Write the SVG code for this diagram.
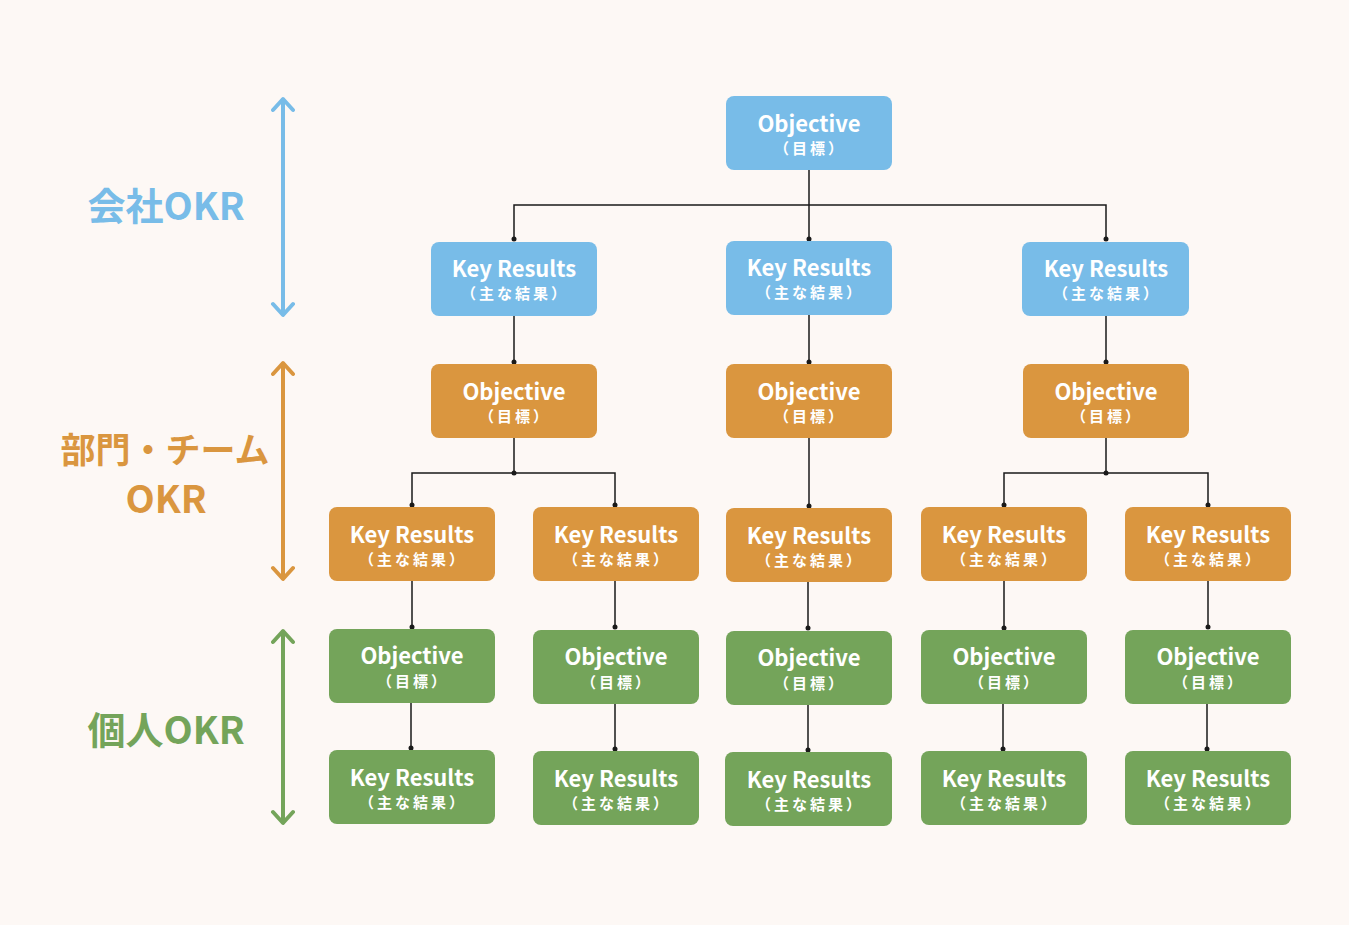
<svg xmlns="http://www.w3.org/2000/svg" width="1349" height="925" viewBox="0 0 1349 925">
<defs>
<style>
.bg{fill:#FDF8F5}
.b{fill:#78BCE8}
.o{fill:#DA963F}
.g{fill:#74A45A}
.t{font-family:"Noto Sans CJK JP","Noto Sans",sans-serif;font-weight:700;fill:#fff;text-anchor:middle}
.t1{font-size:22px}
.t2{font-size:15px;letter-spacing:3px}
.lbl{font-family:"Noto Sans CJK JP","Noto Sans",sans-serif;font-weight:700;text-anchor:middle;font-size:38px}
.c{stroke:#1a1a1a;stroke-width:1.5;fill:none}
.d{fill:#1a1a1a}
</style>
</defs>
<rect class="bg" x="0" y="0" width="1349" height="925"/>

<g id="levels">
<g id="lvl-company">
<line x1="283" y1="100" x2="283" y2="314" stroke="#78BCE8" stroke-width="4" stroke-linecap="round"/>
<path d="M273 110 L283 99 L293 110 M273 304 L283 315 L293 304" fill="none" stroke="#78BCE8" stroke-width="4" stroke-linecap="round" stroke-linejoin="round"/>
<text class="lbl" x="166" y="220" fill="#78BCE8">会社OKR</text>
</g>
<g id="lvl-dept">
<line x1="283" y1="364" x2="283" y2="578" stroke="#DA963F" stroke-width="4" stroke-linecap="round"/>
<path d="M273 374 L283 363 L293 374 M273 568 L283 579 L293 568" fill="none" stroke="#DA963F" stroke-width="4" stroke-linecap="round" stroke-linejoin="round"/>
<text class="lbl" x="165" y="463" fill="#DA963F" style="font-size:35px">部門・チーム</text>
<text class="lbl" x="166" y="513" fill="#DA963F">OKR</text>
</g>
<g id="lvl-person">
<line x1="283" y1="632" x2="283" y2="822" stroke="#74A45A" stroke-width="4" stroke-linecap="round"/>
<path d="M273 642 L283 631 L293 642 M273 812 L283 823 L293 812" fill="none" stroke="#74A45A" stroke-width="4" stroke-linecap="round" stroke-linejoin="round"/>
<text class="lbl" x="166" y="744" fill="#74A45A">個人OKR</text>
</g>
</g>

<g id="connectors">
<path class="c" d="M809 170 V205 M514 240 V205 H1106 V240 M809 205 V240"/>
<path class="c" d="M514 316 V363 M809 315 V363 M1106 316 V363"/>
<path class="c" d="M514 438 V473 M412 506 V473 H615 V506"/>
<path class="c" d="M809 438 V507"/>
<path class="c" d="M1106 438 V473 M1004 506 V473 H1208 V506"/>
<path class="c" d="M412 581 V628 M615 581 V628 M808 582 V629 M1004 581 V629 M1208 581 V628"/>
<path class="c" d="M411 703 V749 M615 704 V750 M808 705 V751 M1003 704 V750 M1207 704 V750"/>
<g class="d">
<circle cx="514" cy="239" r="2.5"/><circle cx="809" cy="239" r="2.5"/><circle cx="1106" cy="239" r="2.5"/>
<circle cx="514" cy="362" r="2.5"/><circle cx="809" cy="362" r="2.5"/><circle cx="1106" cy="362" r="2.5"/>
<circle cx="514" cy="473" r="2.5"/><circle cx="1106" cy="473" r="2.5"/>
<circle cx="412" cy="505" r="2.5"/><circle cx="615" cy="505" r="2.5"/><circle cx="809" cy="506" r="2.5"/><circle cx="1004" cy="505" r="2.5"/><circle cx="1208" cy="505" r="2.5"/>
<circle cx="412" cy="627" r="2.5"/><circle cx="615" cy="627" r="2.5"/><circle cx="808" cy="628" r="2.5"/><circle cx="1004" cy="628" r="2.5"/><circle cx="1208" cy="627" r="2.5"/>
<circle cx="411" cy="748" r="2.5"/><circle cx="615" cy="749" r="2.5"/><circle cx="808" cy="750" r="2.5"/><circle cx="1003" cy="749" r="2.5"/><circle cx="1207" cy="749" r="2.5"/>
</g>
</g>

<g id="n-co-obj"><rect class="b" x="726" y="96" width="166" height="74" rx="8"/><text class="t t1" x="809" y="132">Objective</text><text class="t t2" x="810" y="154">（目標）</text></g>

<g id="n-co-kr1"><rect class="b" x="431" y="242" width="166" height="74" rx="8"/><text class="t t1" x="514" y="277">Key Results</text><text class="t t2" x="515" y="299">（主な結果）</text></g>
<g id="n-co-kr2"><rect class="b" x="726" y="241" width="166" height="74" rx="8"/><text class="t t1" x="809" y="276">Key Results</text><text class="t t2" x="810" y="298">（主な結果）</text></g>
<g id="n-co-kr3"><rect class="b" x="1022" y="242" width="167" height="74" rx="8"/><text class="t t1" x="1106" y="277">Key Results</text><text class="t t2" x="1107" y="299">（主な結果）</text></g>

<g id="n-dp-obj1"><rect class="o" x="431" y="364" width="166" height="74" rx="8"/><text class="t t1" x="514" y="400">Objective</text><text class="t t2" x="515" y="422">（目標）</text></g>
<g id="n-dp-obj2"><rect class="o" x="726" y="364" width="166" height="74" rx="8"/><text class="t t1" x="809" y="400">Objective</text><text class="t t2" x="810" y="422">（目標）</text></g>
<g id="n-dp-obj3"><rect class="o" x="1023" y="364" width="166" height="74" rx="8"/><text class="t t1" x="1106" y="400">Objective</text><text class="t t2" x="1107" y="422">（目標）</text></g>

<g id="n-dp-kr1"><rect class="o" x="329" y="507" width="166" height="74" rx="8"/><text class="t t1" x="412" y="543">Key Results</text><text class="t t2" x="413" y="565">（主な結果）</text></g>
<g id="n-dp-kr2"><rect class="o" x="533" y="507" width="166" height="74" rx="8"/><text class="t t1" x="616" y="543">Key Results</text><text class="t t2" x="617" y="565">（主な結果）</text></g>
<g id="n-dp-kr3"><rect class="o" x="726" y="508" width="166" height="74" rx="8"/><text class="t t1" x="809" y="544">Key Results</text><text class="t t2" x="810" y="566">（主な結果）</text></g>
<g id="n-dp-kr4"><rect class="o" x="921" y="507" width="166" height="74" rx="8"/><text class="t t1" x="1004" y="543">Key Results</text><text class="t t2" x="1005" y="565">（主な結果）</text></g>
<g id="n-dp-kr5"><rect class="o" x="1125" y="507" width="166" height="74" rx="8"/><text class="t t1" x="1208" y="543">Key Results</text><text class="t t2" x="1209" y="565">（主な結果）</text></g>

<g id="n-pe-obj1"><rect class="g" x="329" y="629" width="166" height="74" rx="8"/><text class="t t1" x="412" y="664">Objective</text><text class="t t2" x="413" y="687">（目標）</text></g>
<g id="n-pe-obj2"><rect class="g" x="533" y="630" width="166" height="74" rx="8"/><text class="t t1" x="616" y="665">Objective</text><text class="t t2" x="617" y="688">（目標）</text></g>
<g id="n-pe-obj3"><rect class="g" x="726" y="631" width="166" height="74" rx="8"/><text class="t t1" x="809" y="666">Objective</text><text class="t t2" x="810" y="689">（目標）</text></g>
<g id="n-pe-obj4"><rect class="g" x="921" y="630" width="166" height="74" rx="8"/><text class="t t1" x="1004" y="665">Objective</text><text class="t t2" x="1005" y="688">（目標）</text></g>
<g id="n-pe-obj5"><rect class="g" x="1125" y="630" width="166" height="74" rx="8"/><text class="t t1" x="1208" y="665">Objective</text><text class="t t2" x="1209" y="688">（目標）</text></g>

<g id="n-pe-kr1"><rect class="g" x="329" y="750" width="166" height="74" rx="8"/><text class="t t1" x="412" y="786">Key Results</text><text class="t t2" x="413" y="808">（主な結果）</text></g>
<g id="n-pe-kr2"><rect class="g" x="533" y="751" width="166" height="74" rx="8"/><text class="t t1" x="616" y="787">Key Results</text><text class="t t2" x="617" y="809">（主な結果）</text></g>
<g id="n-pe-kr3"><rect class="g" x="725" y="752" width="167" height="74" rx="8"/><text class="t t1" x="809" y="788">Key Results</text><text class="t t2" x="810" y="810">（主な結果）</text></g>
<g id="n-pe-kr4"><rect class="g" x="921" y="751" width="166" height="74" rx="8"/><text class="t t1" x="1004" y="787">Key Results</text><text class="t t2" x="1005" y="809">（主な結果）</text></g>
<g id="n-pe-kr5"><rect class="g" x="1125" y="751" width="166" height="74" rx="8"/><text class="t t1" x="1208" y="787">Key Results</text><text class="t t2" x="1209" y="809">（主な結果）</text></g>
</svg>
